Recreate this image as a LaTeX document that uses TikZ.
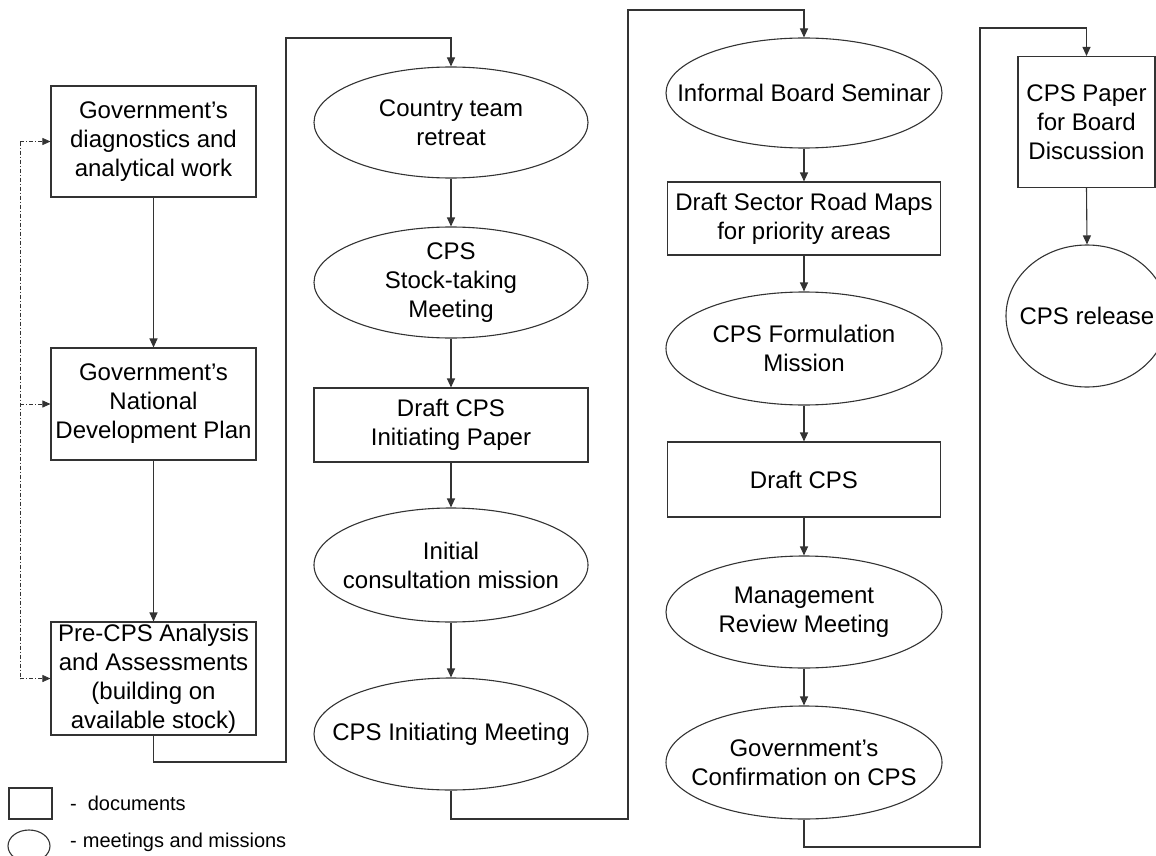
\documentclass[tikz,border=0pt]{standalone}
\usepackage{fontspec}
\setmainfont{Liberation Sans}
\usetikzlibrary{arrows.meta,shapes.geometric}
\begin{document}
\begin{tikzpicture}[x=1pt,y=-1pt,
  lin/.style={draw=black!80, line width=1.1pt},
  doc/.style={lin, rectangle, inner sep=0pt, align=center, font=\fontsize{24}{29}\selectfont},
  meet/.style={lin, ellipse, inner sep=0pt},
  lab/.style={inner sep=0pt, align=center, font=\fontsize{24}{29}\selectfont},
  leg/.style={inner sep=0pt, anchor=west, font=\fontsize{20}{24}\selectfont},
  arr/.style={draw=black!80, line width=1.1pt, -{Triangle[length=9pt,width=8pt]}},
  plainline/.style={draw=black!80, line width=1.1pt},
  dline/.style={draw=black!80, line width=0.8pt, dash pattern=on 4pt off 2pt on 1pt off 2pt},
  darr/.style={dline, -{Triangle[length=8pt,width=7pt]}},
]
\useasboundingbox (0,0) rectangle (1156,856);

% column 1
\node[doc, minimum width=205pt, minimum height=111pt] (A) at (153.5,141.5) {Government’s\\diagnostics and\\analytical work};
\node[doc, minimum width=205pt, minimum height=112pt] (B) at (153.5,404) {Government’s\\National\\Development Plan};
\node[doc, minimum width=205pt, minimum height=113pt] (C) at (153.5,678.5) {Pre-CPS Analysis\\and Assessments\\(building on\\available stock)};

% column 2
\node[meet, minimum width=274pt, minimum height=111pt] (e1) at (451,122.5) {};
\node[lab] (e1t) at (e1) {Country team\\retreat};
\node[meet, minimum width=274pt, minimum height=111pt] (e2) at (451,282.5) {};
\node[lab] (e2t) at (e2) {CPS\\Stock-taking\\Meeting};
\node[doc, minimum width=274pt, minimum height=74pt] (b2) at (451,425) {Draft CPS\\Initiating Paper};
\node[meet, minimum width=274pt, minimum height=114pt] (e3) at (451,565) {};
\node[lab] (e3t) at (e3) {Initial\\consultation mission};
\node[meet, minimum width=274pt, minimum height=112pt] (e4) at (451,734) {};
\node[lab] (e4t) at (e4) {CPS Initiating Meeting};

% column 3
\node[meet, minimum width=276pt, minimum height=110pt] (f1) at (804,93) {};
\node[lab] (f1t) at (f1) {Informal Board Seminar};
\node[doc, minimum width=273pt, minimum height=73pt] (f2) at (804,218.5) {Draft Sector Road Maps\\for priority areas};
\node[meet, minimum width=276pt, minimum height=113pt] (f3) at (804,348.5) {};
\node[lab] (f3t) at (f3) {CPS Formulation\\Mission};
\node[doc, minimum width=273pt, minimum height=75pt] (f4) at (804,479.5) {Draft CPS};
\node[meet, minimum width=276pt, minimum height=112pt] (f5) at (804,612) {};
\node[lab] (f5t) at (f5) {Management\\Review Meeting};
\node[meet, minimum width=276pt, minimum height=113pt] (f6) at (804,762.5) {};
\node[lab] (f6t) at (f6) {Government’s\\Confirmation on CPS};

% column 4
\node[doc, minimum width=137pt, minimum height=131pt] (g1) at (1086.5,122) {CPS Paper\\for Board\\Discussion};
\node[meet, minimum width=162pt, minimum height=142pt] (g2) at (1087,316) {};
\node[lab] (g2t) at (g2) {CPS release};

% legend
\node[lin, rectangle, minimum width=43pt, minimum height=31pt, inner sep=0pt] (lr) at (30.5,803.5) {};
\node[leg] (lrt) at (70,803) {-\hspace{11pt}documents};
\node[meet, minimum width=42pt, minimum height=32pt] (lm) at (29,846) {};
\node[leg] (lmt) at (70,842) {-\hspace{6pt}meetings and missions};

% connectors column 1
\draw[arr] (A) -- (B);
\draw[arr] (B) -- (C);
\coordinate (k1) at (286,762);
\coordinate (k2) at (286,38);
\draw[arr] (C.south) |- (k1) -- (k2) -| (e1.north);

% column 2
\draw[arr] (e1.south) -- (e2.north);
\draw[arr] (e2.south) -- (b2.north);
\draw[arr] (b2.south) -- (e3.north);
\draw[arr] (e3.south) -- (e4.north);
\coordinate (k3) at (628,819);
\coordinate (k4) at (628,10);
\draw[arr] (e4.south) |- (k3) -- (k4) -| (f1.north);

% column 3
\draw[arr] (f1.south) -- (f2.north);
\draw[arr] (f2.south) -- (f3.north);
\draw[arr] (f3.south) -- (f4.north);
\draw[arr] (f4.south) -- (f5.north);
\draw[arr] (f5.south) -- (f6.north);
\coordinate (k5) at (980,847);
\coordinate (k6) at (980,28);
\draw[arr] (f6.south) |- (k5) -- (k6) -| (g1.north);

% column 4
\draw[arr] (g1.south) -- (g2.north);

% dashed feedback
\coordinate (d0) at (20,141.5);
\coordinate (d1) at (20,404);
\coordinate (d2) at (20,678.5);
\draw[dline] (d0) -- (d2);
\draw[darr] (d0) -- (A.west);
\draw[darr] (d1) -- (B.west);
\draw[darr] (d2) -- (C.west);
\end{tikzpicture}
\end{document}
